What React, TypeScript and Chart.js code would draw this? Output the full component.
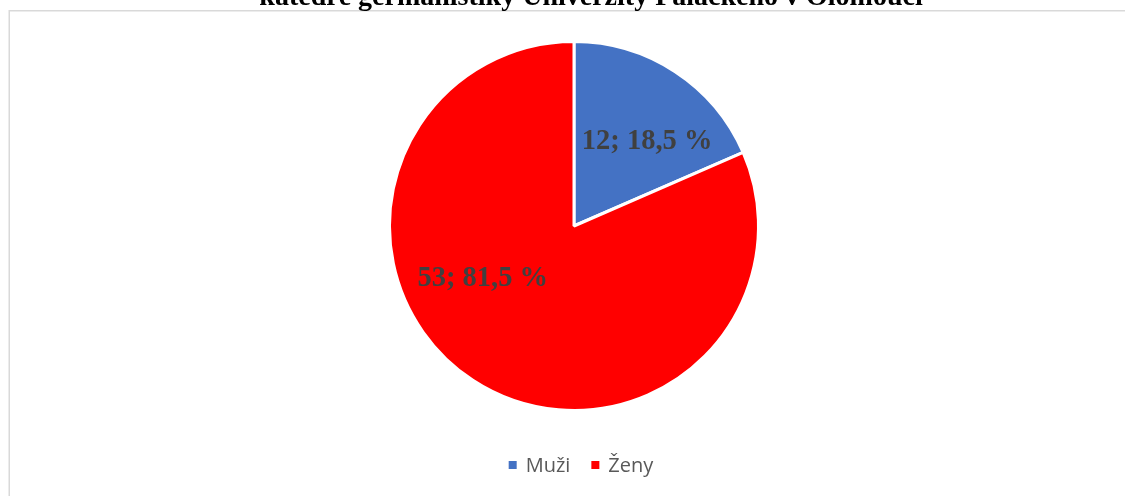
import React, { useEffect, useRef } from "react";
import { Chart, registerables } from "chart.js";

Chart.register(...registerables);

const categories = ["Muži", "Ženy"];
const values = [12, 53];
const percentLabels = ["18,5 %", "81,5 %"];
const colors = ["#4472C4", "#FF0000"];
const titleText = "katedře germanistiky Univerzity Palackého v Olomouci";

// placement of the value labels inside each slice (fraction of slice angle, fraction of radius)
const labelAngleFrac = [0.606, 0.595];
const labelRadiusFrac = [0.613, 0.565];

const overlayPlugin = {
  id: "overlay",
  beforeDraw(chart: any) {
    const ctx = chart.ctx;
    ctx.save();
    ctx.fillStyle = "#ffffff";
    ctx.fillRect(0, 0, chart.width, chart.height);
    // frame
    ctx.strokeStyle = "#d9d9d9";
    ctx.lineWidth = 1.5;
    ctx.beginPath();
    ctx.moveTo(9.25, chart.height + 2);
    ctx.lineTo(9.25, 10.75);
    ctx.lineTo(chart.width + 2, 10.75);
    ctx.stroke();
    // title (top line cut off by the picture)
    ctx.fillStyle = "#000000";
    ctx.font = "bold 28px 'Liberation Serif', 'Times New Roman', serif";
    ctx.textAlign = "center";
    ctx.textBaseline = "alphabetic";
    ctx.fillText(titleText, 591, 5);
    ctx.restore();
  },
  afterDatasetsDraw(chart: any) {
    const ctx = chart.ctx;
    const meta = chart.getDatasetMeta(0);
    ctx.save();
    ctx.font = "bold 28.5px 'Liberation Serif', 'Times New Roman', serif";
    ctx.fillStyle = "#404040";
    ctx.textAlign = "center";
    ctx.textBaseline = "middle";
    meta.data.forEach((arc: any, i: number) => {
      const p = arc.getProps(["x", "y", "startAngle", "endAngle", "outerRadius"], true);
      const a = p.startAngle + (p.endAngle - p.startAngle) * labelAngleFrac[i];
      const r = p.outerRadius * labelRadiusFrac[i];
      const x = p.x + Math.cos(a) * r;
      const y = p.y + Math.sin(a) * r;
      ctx.fillText(values[i] + "; " + percentLabels[i], x, y + 2);
    });
    // legend
    ctx.font = "20px 'Open Sans', 'Noto Sans', sans-serif";
    ctx.textBaseline = "middle";
    ctx.textAlign = "left";
    const box = 8;
    const gapText = 9;
    const gapItem = 21;
    const widths = categories.map((c) => ctx.measureText(c).width);
    const total =
      widths.reduce((s, w) => s + box + gapText + w, 0) + gapItem * (categories.length - 1);
    let x = 581 - total / 2;
    const cy = 465;
    categories.forEach((c, i) => {
      ctx.fillStyle = colors[i];
      ctx.fillRect(x, cy - box / 2, box, box);
      x += box + gapText;
      ctx.fillStyle = "#595959";
      ctx.fillText(c, x, cy + 1);
      x += widths[i] + gapItem;
    });
    ctx.restore();
  },
};

export default function App() {
  const ref = useRef<HTMLCanvasElement>(null);
  useEffect(() => {
    if (!ref.current) return;
    const chart = new Chart(ref.current, {
      type: "pie",
      data: {
        labels: categories,
        datasets: [
          {
            data: values,
            backgroundColor: colors,
            borderColor: "#ffffff",
            borderWidth: 3,
          },
        ],
      },
      options: {
        responsive: false,
        animation: false,
        layout: { padding: { top: 40, bottom: 84, left: 23, right: 0 } },
        plugins: {
          legend: { display: false },
          title: { display: false },
          tooltip: { enabled: false },
        },
      },
      plugins: [overlayPlugin],
    });
    return () => chart.destroy();
  }, []);
  return (
    <div style={{ position: "fixed", left: 0, top: 0, width: 1125, height: 496, background: "#fff" }}>
      <canvas ref={ref} width={1125} height={496} style={{ display: "block" }} />
    </div>
  );
}
